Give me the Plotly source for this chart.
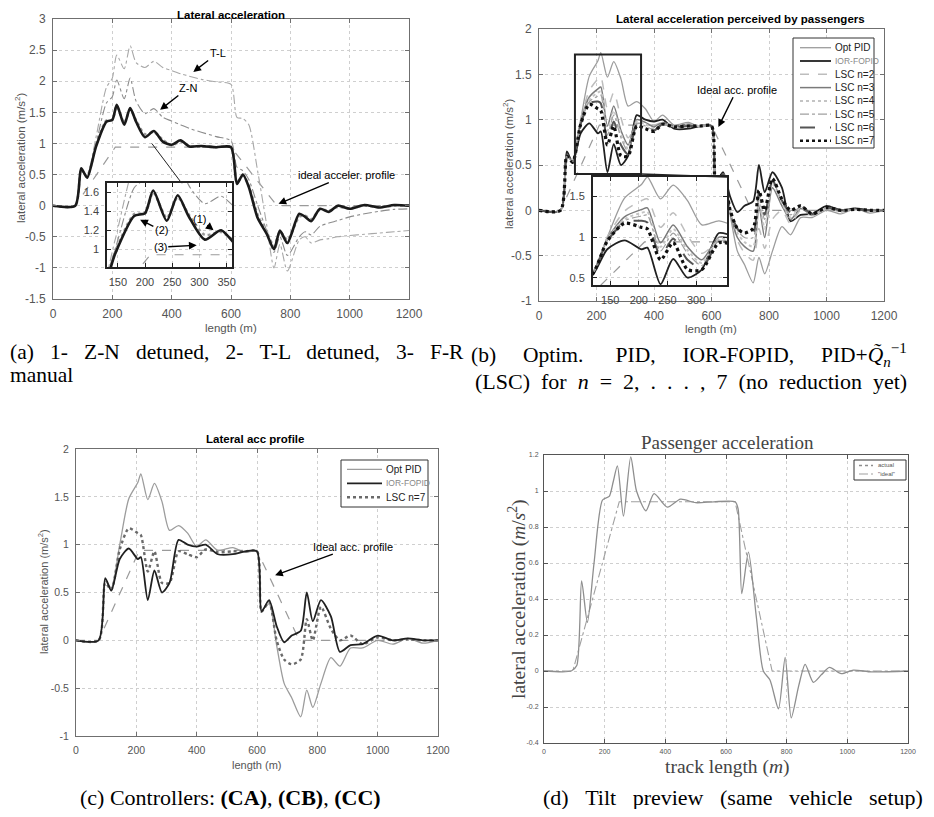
import plotly.graph_objects as go

# The page body has an 8 px margin: the figure is sized so that it exactly fills the 934x817 window,
# and reference pixel positions are converted with that offset.
OFF = 8
W, H = 934 - 2 * OFF, 817 - 2 * OFF
def PX(p): return (p - OFF) / W
def PY(p): return 1 - (p - OFF) / H

# ======================= DATA =======================
# (a) Lateral acceleration
a_length = [0, 75, 95, 115, 145, 180, 200, 215, 240, 260, 280, 310, 340, 370, 400, 430, 460, 500, 550, 600,
            620, 640, 660, 690, 720, 745, 765, 790, 830, 850, 870, 900, 930, 960, 1000, 1050, 1100, 1150, 1200]
a_zn_detuned = [0, 0, 0.6, 0.45, 0.95, 1.35, 1.38, 1.62, 1.3, 1.57, 1.35, 1.1, 1.2, 1.03, 0.98, 1.05, 0.95, 0.96, 0.94, 0.94,
                0.35, 0.5, 0.3, -0.2, -0.45, -0.7, -0.4, -0.6, -0.13, -0.18, -0.25, -0.05, -0.1, 0.0, -0.05, 0.01, -0.03, 0.01, 0]
a_tl_detuned = [0, 0, 0.58, 0.47, 0.97, 1.37, 1.38, 1.6, 1.33, 1.55, 1.37, 1.15, 1.18, 1.06, 0.97, 1.03, 0.96, 0.95, 0.94, 0.94,
                0.37, 0.48, 0.32, -0.15, -0.42, -0.65, -0.42, -0.55, -0.18, -0.16, -0.22, -0.06, -0.08, -0.02, -0.04, 0.0, -0.02, 0.0, 0]
a_zn = [0, 0, 0.55, 0.5, 1.0, 1.65, 1.75, 2.02, 1.72, 2.05, 1.68, 1.48, 1.56, 1.42, 1.36, 1.3, 1.24, 1.18, 1.11, 1.04,
        0.62, 0.56, 0.42, 0.0, -0.4, -0.75, -0.5, -0.8, -0.5, -0.42, -0.47, -0.33, -0.28, -0.24, -0.18, -0.13, -0.09, -0.06, -0.05]
a_tl = [0, 0, 0.55, 0.5, 1.1, 1.9, 2.05, 2.42, 2.2, 2.57, 2.3, 2.22, 2.32, 2.22, 2.17, 2.12, 2.08, 2.03, 1.99, 1.95,
        1.42, 1.4, 1.3, 0.55, -0.3, -1.0, -0.62, -1.05, -0.55, -0.5, -0.6, -0.55, -0.53, -0.5, -0.48, -0.46, -0.44, -0.42, -0.4]
a_ideal_length = [0, 75, 210, 600, 755, 1200]
a_ideal = [0, 0, 0.94, 0.94, 0, 0]

# (b) and (c) Lateral acceleration perceived by passengers / Lateral acc profile
bc_length = [0, 75, 97, 117, 145, 175, 205, 215, 238, 260, 285, 310, 340, 370, 400, 430, 470, 520, 560, 600,
             615, 640, 665, 690, 715, 745, 765, 785, 812, 845, 875, 910, 950, 1000, 1050, 1100, 1150, 1200]
opt_pid = [0, 0, 0.62, 0.55, 1.0, 1.48, 1.65, 1.74, 1.47, 1.64, 1.45, 1.15, 1.2, 1.12, 0.98, 1.05, 0.94, 0.97, 0.92, 0.93,
           0.32, 0.38, -0.05, -0.45, -0.6, -0.8, -0.52, -0.7, -0.45, -0.18, -0.27, -0.08, -0.08, 0.0, -0.04, 0.02, -0.03, 0]
ior_fopid = [0, 0, 0.65, 0.52, 0.85, 0.96, 0.85, 0.87, 0.42, 0.73, 0.5, 0.6, 1.05, 1.0, 0.98, 1.0, 0.9, 0.9, 0.93, 0.93,
             0.3, 0.42, 0.15, -0.02, 0.05, 0.1, 0.5, 0.2, 0.42, 0.25, -0.12, -0.05, -0.04, 0.05, 0.0, 0.02, 0.0, 0]
lsc_n2 = [0, 0, 0.6, 0.54, 1.0, 1.32, 1.45, 1.47, 1.12, 1.3, 1.02, 0.8, 0.95, 0.97, 0.94, 0.97, 0.93, 0.95, 0.93, 0.93,
          0.3, 0.38, 0.0, -0.33, -0.47, -0.55, -0.2, -0.42, -0.1, 0.0, -0.15, 0.0, -0.06, 0.02, -0.02, 0.01, -0.01, 0]
lsc_n3 = [0, 0, 0.61, 0.54, 0.98, 1.25, 1.34, 1.36, 0.93, 1.15, 0.88, 0.72, 1.0, 0.97, 0.92, 0.97, 0.93, 0.95, 0.93, 0.93,
          0.3, 0.4, -0.02, -0.3, -0.4, -0.45, 0.05, -0.3, 0.25, 0.05, -0.1, 0.02, -0.05, 0.02, -0.01, 0.01, 0, 0]
lsc_n4 = [0, 0, 0.61, 0.54, 0.97, 1.22, 1.3, 1.31, 0.88, 1.1, 0.84, 0.68, 0.98, 0.95, 0.9, 0.96, 0.93, 0.94, 0.93, 0.93,
          0.3, 0.4, -0.02, -0.25, -0.35, -0.4, 0.1, -0.2, 0.3, 0.08, -0.08, 0.03, -0.05, 0.02, -0.01, 0.01, 0, 0]
lsc_n5 = [0, 0, 0.6, 0.53, 0.96, 1.2, 1.26, 1.27, 0.83, 1.05, 0.8, 0.65, 0.96, 0.93, 0.89, 0.95, 0.92, 0.94, 0.93, 0.93,
          0.3, 0.4, -0.02, -0.22, -0.3, -0.3, 0.15, -0.1, 0.32, 0.1, -0.05, 0.04, -0.05, 0.03, 0, 0.01, 0, 0]
lsc_n6 = [0, 0, 0.6, 0.53, 0.95, 1.18, 1.2, 1.18, 0.77, 0.98, 0.72, 0.62, 0.94, 0.91, 0.88, 0.95, 0.92, 0.93, 0.93, 0.93,
          0.3, 0.4, 0.0, -0.2, -0.27, -0.25, 0.2, -0.05, 0.33, 0.11, -0.02, 0.05, -0.04, 0.03, 0, 0.01, 0, 0]
lsc_n7 = [0, 0, 0.6, 0.53, 0.95, 1.17, 1.12, 1.1, 0.72, 0.93, 0.6, 0.6, 0.93, 0.9, 0.87, 0.95, 0.92, 0.93, 0.93, 0.93,
          0.3, 0.4, 0.0, -0.2, -0.25, -0.2, 0.22, 0.0, 0.35, 0.12, 0.0, 0.05, -0.04, 0.03, 0.0, 0.01, 0.0, 0]
bc_ideal_length = [0, 75, 210, 600, 740, 1200]
bc_ideal = [0, 0, 0.94, 0.94, 0, 0]

# (d) Passenger acceleration
d_length = [0, 90, 108, 124, 143, 165, 193, 215, 228, 242, 262, 286, 305, 336, 363, 407, 450, 500, 560, 630,
            640, 652, 674, 700, 723, 745, 773, 795, 815, 840, 861, 888, 915, 941, 980, 1020, 1080, 1200]
d_actual = [0, 0, 0.03, 0.5, 0.27, 0.6, 0.95, 0.97, 1.05, 1.14, 0.86, 1.19, 1.0, 0.89, 0.985, 0.91, 0.955, 0.935, 0.94, 0.94,
            0.9, 0.43, 0.66, 0.3, 0.0, -0.05, -0.21, 0.076, -0.26, -0.08, 0.037, -0.063, -0.02, 0.02, -0.015, 0.005, -0.005, 0]
d_ideal_length = [0, 95, 248, 630, 752, 1200]
d_ideal = [0, 0, 0.94, 0.94, 0, 0]

# tick labels
x_ticks = [0, 200, 400, 600, 800, 1000, 1200]
a_yticks = [-1.5, -1, -0.5, 0, 0.5, 1, 1.5, 2, 2.5, 3]
bc_yticks = [-1, -0.5, 0, 0.5, 1, 1.5, 2]
d_yticks = [-0.4, -0.2, 0, 0.2, 0.4, 0.6, 0.8, 1, 1.2]
a_inset_xticks = [150, 200, 250, 300, 350]
a_inset_yticks = [1, 1.2, 1.4, 1.6]
b_inset_xticks = [150, 200, 250, 300]
b_inset_yticks = [0.5, 1, 1.5]

def lab(v):
    return '%g' % v

# ======================= FIGURE =======================
fig = go.Figure()
SANS = 'Liberation Sans'
SERIF = 'Liberation Serif'

def add(x, y, ax, style, shape='spline'):
    fig.add_trace(go.Scatter(x=x, y=y, mode='lines', xaxis='x' + ax if ax != '1' else 'x',
                             yaxis='y' + ax if ax != '1' else 'y', line=dict(shape=shape, smoothing=0.7, **style),
                             showlegend=False, hoverinfo='skip'))

# styles
st_ideal = dict(color='#9a9a9a', width=1.2, dash='dash')
st_tl = dict(color='#a8a8a8', width=1.1, dash='dashdot')
st_zn = dict(color='#8c8c8c', width=1.1, dash='dashdot')
st_c2 = dict(color='#9a9a9a', width=2.5, dash='dot')
st_c1 = dict(color='#1a1a1a', width=2.6)

st_opt = dict(color='#9c9c9c', width=1.3)
st_ior = dict(color='#202020', width=1.8)
st_n2 = dict(color='#bdbdbd', width=1.5, dash='dash')
st_n3 = dict(color='#7a7a7a', width=1.5)
st_n4 = dict(color='#c4c4c4', width=2.0, dash='dot')
st_n5 = dict(color='#a0a0a0', width=1.2, dash='dashdot')
st_n6 = dict(color='#555555', width=2.0, dash='longdash')
st_n7 = dict(color='#111111', width=3.2, dash='dot')
st_c_n7 = dict(color='#6a6a6a', width=2.4, dash='dot')

st_d_actual = dict(color='#8e8e8e', width=1.3)
st_d_ideal = dict(color='#a0a0a0', width=1.1, dash='dashdot')

# (a) main + inset
for ax in ['1', '5']:
    add(a_ideal_length, a_ideal, ax, st_ideal, 'linear')
    add(a_length, a_tl, ax, st_tl)
    add(a_length, a_zn, ax, st_zn)
    add(a_length, a_tl_detuned, ax, st_c2)
    add(a_length, a_zn_detuned, ax, st_c1)

# (b) main + inset
b_series = [(opt_pid, st_opt), (ior_fopid, st_ior), (lsc_n2, st_n2), (lsc_n3, st_n3), (lsc_n4, st_n4),
            (lsc_n5, st_n5), (lsc_n6, st_n6), (lsc_n7, st_n7)]
for ax in ['2', '6']:
    add(bc_ideal_length, bc_ideal, ax, st_ideal, 'linear')
    for ys, st in b_series:
        add(bc_length, ys, ax, st)

# (c)
add(bc_ideal_length, bc_ideal, '3', st_ideal, 'linear')
add(bc_length, opt_pid, '3', st_opt)
add(bc_length, lsc_n7, '3', st_c_n7)
add(bc_length, ior_fopid, '3', st_ior)

# (d)
add(d_ideal_length, d_ideal, '4', st_d_ideal, 'linear')
add(d_length, d_actual, '4', st_d_actual)

# ======================= AXES =======================
def axis(domain, anchor, rng, tickvals, fsize=12, lc='#6f6f6f', lw=1, grid=True, tcolor='#555', standoff=4):
    return dict(domain=domain, anchor=anchor, range=rng, tickvals=tickvals,
                ticktext=[lab(v) for v in tickvals], showline=True, linecolor=lc, linewidth=lw,
                mirror='ticks', ticks='inside', ticklen=4, tickcolor=lc, showgrid=grid,
                gridcolor='#cfcfcf', griddash='dot', gridwidth=1, zeroline=False, automargin=False,
                tickfont=dict(family=SANS, size=fsize, color=tcolor), ticklabelstandoff=standoff)

lay = dict(
    width=W, height=H, margin=dict(l=0, r=0, t=0, b=0), paper_bgcolor='white', plot_bgcolor='white',
    showlegend=False,
    xaxis=axis([PX(53), PX(409)], 'y', [0, 1200], x_ticks, 12),
    yaxis=axis([PY(299), PY(19)], 'x', [-1.5, 3], a_yticks, 12),
    xaxis2=axis([PX(539), PX(884)], 'y2', [0, 1200], x_ticks, 12),
    yaxis2=axis([PY(301), PY(29)], 'x2', [-1, 2], bc_yticks, 12),
    xaxis3=axis([PX(76), PX(438)], 'y3', [0, 1200], x_ticks, 10.5),
    yaxis3=axis([PY(736), PY(449)], 'x3', [-1, 2], bc_yticks, 10.5),
    xaxis4=axis([PX(544), PX(908)], 'y4', [0, 1200], x_ticks, 7, lc='#555', standoff=2),
    yaxis4=axis([PY(743), PY(455)], 'x4', [-0.4, 1.2], d_yticks, 7, lc='#555', standoff=3),
    xaxis5=axis([PX(107), PX(232)], 'y5', [130, 360], a_inset_xticks, 11, lc='#222', lw=1.5, tcolor='#444'),
    yaxis5=axis([PY(267), PY(183)], 'x5', [0.81, 1.70], a_inset_yticks, 11, lc='#222', lw=1.5, tcolor='#444'),
    xaxis6=axis([PX(593), PX(727)], 'y6', [120, 354], b_inset_xticks, 11, lc='#222', lw=2, tcolor='#444'),
    yaxis6=axis([PY(285), PY(177)], 'x6', [0.41, 1.74], b_inset_yticks, 11, lc='#222', lw=2, tcolor='#444'),
)
fig.update_layout(**lay)

shapes = []
# inset white backgrounds (drawn in inset subplot, above main traces)
shapes.append(dict(type='rect', xref='x5', yref='y5', x0=130, x1=360, y0=0.81, y1=1.70,
                   fillcolor='white', line=dict(width=0), layer='below'))
shapes.append(dict(type='rect', xref='x6', yref='y6', x0=120, x1=354, y0=0.41, y1=1.74,
                   fillcolor='white', line=dict(width=0), layer='below'))
# (a) connector line
shapes.append(dict(type='line', xref='x', yref='y', x0=333, y0=1.0, x1=434, y1=0.36,
                   line=dict(color='#222', width=1)))
# (b) zoom rectangle and connector
shapes.append(dict(type='rect', xref='x2', yref='y2', x0=125, x1=355, y0=0.40, y1=1.72,
                   line=dict(color='#222', width=2)))
shapes.append(dict(type='line', xref='paper', yref='paper', x0=PX(641), y0=PY(174), x1=PX(727), y1=PY(177),
                   line=dict(color='#222', width=1.5)))

annotations = []
def text(x, y, s, size=11, family=SANS, color='black', xanchor='center', angle=0):
    annotations.append(dict(xref='paper', yref='paper', x=PX(x), y=PY(y), text=s, showarrow=False,
                            xanchor=xanchor, yanchor='middle', textangle=angle,
                            font=dict(family=family, size=size, color=color)))

# manual legends
def legend(box, entries, x_line, x_text, ys):
    x0, x1, y0, y1 = box
    shapes.append(dict(type='rect', xref='paper', yref='paper', x0=PX(x0), x1=PX(x1), y0=PY(y1), y1=PY(y0),
                       fillcolor='white', line=dict(color='#333', width=1), layer='above'))
    for (name, st, col, fs), yy in zip(entries, ys):
        line = dict(color=st['color'], width=min(st['width'], 2.6))
        if 'dash' in st:
            line['dash'] = st['dash']
        shapes.append(dict(type='line', xref='paper', yref='paper', x0=PX(x_line[0]), x1=PX(x_line[1]),
                           y0=PY(yy), y1=PY(yy), line=line, layer='above'))
        text(x_text, yy, name, fs, color=col, xanchor='left')

legend((793, 874, 38, 148),
       [('Opt PID', st_opt, '#222', 10), ('IOR-FOPID', st_ior, '#888', 8.5), ('LSC n=2', st_n2, '#222', 10),
        ('LSC n=3', st_n3, '#222', 10), ('LSC n=4', st_n4, '#222', 10), ('LSC n=5', st_n5, '#222', 10),
        ('LSC n=6', st_n6, '#222', 10), ('LSC n=7', st_n7, '#222', 10)],
       (800, 831), 833, [47.7 + i * 13.3 for i in range(8)])
legend((341, 428, 460, 507),
       [('Opt PID', st_opt, '#222', 10), ('IOR-FOPID', st_ior, '#888', 8.5), ('LSC n=7', st_c_n7, '#222', 10)],
       (347, 382), 384, [469.3, 483.3, 497.3])
legend((854, 906, 460, 480),
       [('actual', dict(color='#8e8e8e', width=1.3, dash='dot'), '#555', 6), ('"ideal"', st_d_ideal, '#555', 6)],
       (859, 873), 876, [465.5, 474])

# titles
text(231, 15, '<b>Lateral acceleration</b>', 11.5)
text(740, 19, '<b>Lateral acceleration perceived by passengers</b>', 11.5)
text(255, 439, '<b>Lateral acc profile</b>', 11.5)
text(727, 442, 'Passenger acceleration', 19, SERIF, '#444')

# axis labels
text(20, 158, 'lateral acceleration (m/s<sup>2</sup>)', 11.5, color='#555', angle=-90)
text(231, 328, 'length (m)', 11.5, color='#555')
text(508, 164, 'lateral acceleration (m/s<sup>2</sup>)', 11.5, color='#555', angle=-90)
text(711, 329, 'length (m)', 11.5, color='#555')
text(43, 592, 'lateral acceleration (m/s<sup>2</sup>)', 11, color='#555', angle=-90)
text(257, 765, 'length (m)', 11, color='#555')
text(517, 599, 'lateral acceleration (<i>m</i>/<i>s</i><sup>2</sup>)', 19.5, SERIF, '#444', angle=-90)
text(727, 767, 'track length (<i>m</i>)', 19.5, SERIF, '#444')

# captions (LaTeX-like justified spacing)
NB = '\u00a0'
def spaced(words, gap):
    return (' ' + NB * gap).join(words)

text(8, 352, spaced(['(a)', '1-', 'Z-N', 'detuned,', '2-', 'T-L', 'detuned,', '3-', 'F-R'], 2), 21.5, SERIF, 'black', 'left')
text(8, 375, 'manual', 21.5, SERIF, 'black', 'left')
text(469, 355, spaced(['(b)', 'Optim.', NB + 'PID,', 'IOR-FOPID,',
                       'PID+<i>Q̃</i><sub><i>n</i></sub><sup>−1</sup>'], 4), 21.5, SERIF, 'black', 'left')
text(473, 381, spaced(['(LSC)', 'for', '<i>n</i>', '=', '2,', '.', '.', '.', ',', '7', '(no', 'reduction', 'yet)'], 1),
     22, SERIF, 'black', 'left')
text(230, 797, spaced(['(c)', 'Controllers:', '<b>(CA)</b>,', '<b>(CB)</b>,', '<b>(CC)</b>'], 0), 22, SERIF, 'black')
text(733, 797, spaced(['(d)', 'Tilt', 'preview', '(same', 'vehicle', 'setup)'], 2), 22, SERIF, 'black')

# arrows
def arrow(xr, yr, x, y, ax, ay, s, size=11, color='black'):
    annotations.append(dict(xref=xr, yref=yr, x=x, y=y, axref=xr, ayref=yr, ax=ax, ay=ay, text=s,
                            showarrow=True, arrowhead=2, arrowsize=1.1, arrowwidth=1.4, arrowcolor='black',
                            font=dict(family=SANS, size=size, color=color)))

arrow('x', 'y', 473, 2.15, 555, 2.45, 'T-L')
arrow('x', 'y', 361, 1.54, 455, 1.89, 'Z-N')
arrow('x', 'y', 760, 0.03, 990, 0.49, 'ideal acceler. profile')
arrow('x5', 'y5', 191, 1.31, 230, 1.20, '(2)')
arrow('x5', 'y5', 326, 1.20, 300, 1.32, '(1)')
arrow('x5', 'y5', 295, 1.04, 228, 1.02, '(3)')
arrow('x2', 'y2', 624, 0.92, 688, 1.33, 'Ideal acc. profile')
arrow('x3', 'y3', 660, 0.68, 919, 0.98, 'Ideal acc. profile')

fig.update_layout(shapes=shapes, annotations=annotations)
fig.write_html('out.html')
